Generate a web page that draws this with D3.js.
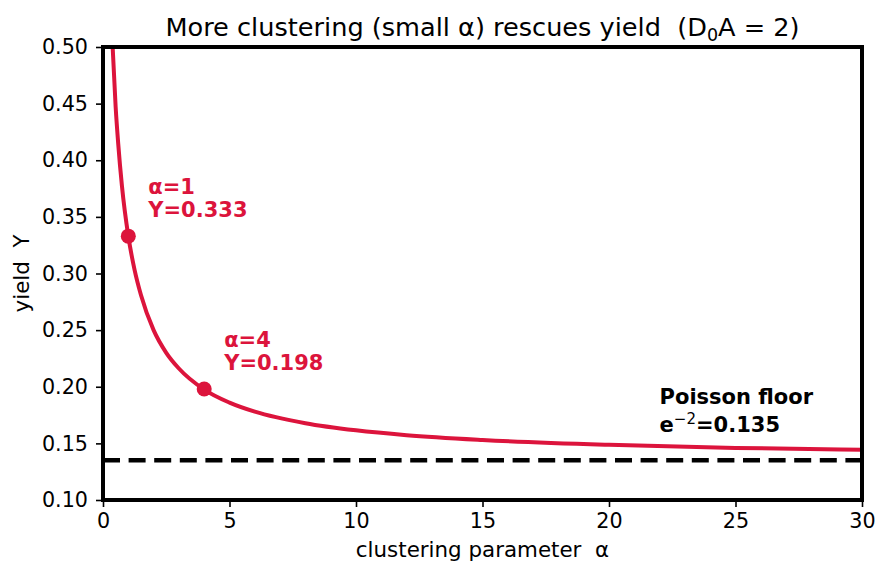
<!DOCTYPE html>
<html>
<head>
<meta charset="utf-8">
<script src="https://cdn.jsdelivr.net/npm/d3@7"></script>
<style>
  body { margin: 0; background: #fff; }
  text { font-family: "DejaVu Sans", sans-serif; white-space: pre; }
</style>
</head>
<body>
<div id="chart"></div>
<script>
// --- data ---
const alphaVals = [0.35, 0.5, 0.6, 0.75, 1, 1.25, 1.5, 2, 2.5, 3, 4, 5, 6, 8, 10, 12, 15, 20, 25, 30];
const yieldVals = [0.514, 0.447, 0.415, 0.377, 0.333, 0.303, 0.281, 0.25, 0.2300, 0.2161, 0.1975, 0.1860, 0.1780, 0.1678, 0.1615, 0.1572, 0.1530, 0.1487, 0.1460, 0.1443];
const markedAlpha = [1, 4];
const markedYield = [0.333, 0.198];
const poissonFloor = 0.135;
const xTicks = [0, 5, 10, 15, 20, 25, 30];
const yTicks = [0.10, 0.15, 0.20, 0.25, 0.30, 0.35, 0.40, 0.45, 0.50];

const W = 889, H = 575;
const margin = {top: 47, right: 27, bottom: 75, left: 103};
const crimson = "#dc143c";

const svg = d3.select("#chart").append("svg")
  .attr("width", W).attr("height", H);

const x = d3.scaleLinear().domain([0, 30]).range([margin.left, W - margin.right]);
const y = d3.scaleLinear().domain([0.10, 0.50]).range([H - margin.bottom, margin.top]);

svg.append("defs").append("clipPath").attr("id", "plotClip")
  .append("rect")
  .attr("x", margin.left).attr("y", margin.top)
  .attr("width", W - margin.left - margin.right)
  .attr("height", H - margin.top - margin.bottom);

// axes
const xAxis = svg.append("g")
  .attr("transform", `translate(0,${H - margin.bottom})`)
  .call(d3.axisBottom(x).tickValues(xTicks).tickSize(7).tickPadding(6).tickFormat(d3.format("d")));
const yAxis = svg.append("g")
  .attr("transform", `translate(${margin.left},0)`)
  .call(d3.axisLeft(y).tickValues(yTicks).tickSize(7).tickPadding(8).tickFormat(d3.format(".2f")));
[xAxis, yAxis].forEach(a => {
  a.select(".domain").remove();
  a.selectAll(".tick line").attr("stroke", "#000").attr("stroke-width", 1.6);
  a.selectAll(".tick text").attr("fill", "#000").style("font-size", "20.7px")
    .style("font-family", "DejaVu Sans, sans-serif");
});

// poisson floor
svg.append("line")
  .attr("x1", x(0)).attr("x2", x(30))
  .attr("y1", y(poissonFloor)).attr("y2", y(poissonFloor))
  .attr("stroke", "#000").attr("stroke-width", 4.5)
  .attr("stroke-dasharray", "17,8.6");

// curve
const pts = alphaVals.map((a, i) => [a, yieldVals[i]]);
const line = d3.line().x(d => x(d[0])).y(d => y(d[1])).curve(d3.curveMonotoneX);
svg.append("path")
  .datum(pts)
  .attr("clip-path", "url(#plotClip)")
  .attr("d", line)
  .attr("fill", "none")
  .attr("stroke", crimson)
  .attr("stroke-width", 4);

// marked points
svg.selectAll(".mark")
  .data(markedAlpha.map((a, i) => [a, markedYield[i]]))
  .enter().append("circle")
  .attr("class", "mark")
  .attr("cx", d => x(d[0])).attr("cy", d => y(d[1]))
  .attr("r", 7.5)
  .attr("fill", crimson);

// annotations
const ann = svg.append("g").style("font-weight", "bold").style("font-size", "21px");
markedAlpha.forEach((a, i) => {
  const tx = x(a) + 20, ty = y(markedYield[i]);
  ann.append("text").attr("x", tx).attr("y", ty - 42).attr("fill", crimson).text(`α=${a}`);
  ann.append("text").attr("x", tx).attr("y", ty - 19).attr("fill", crimson)
    .text(`Y=${markedYield[i].toFixed(3)}`);
});
ann.append("text").attr("x", x(22)).attr("y", y(0.16) - 28).attr("fill", "#000").text("Poisson floor");
const eText = ann.append("text").attr("x", x(22)).attr("y", y(0.16)).attr("fill", "#000");
eText.append("tspan").text("e");
eText.append("tspan").attr("dy", -8).style("font-size", "15px").style("font-weight", "normal").text("−2");
eText.append("tspan").attr("dy", 8).text("=0.135");

// frame
svg.append("rect")
  .attr("x", margin.left).attr("y", margin.top)
  .attr("width", W - margin.left - margin.right)
  .attr("height", H - margin.top - margin.bottom)
  .attr("fill", "none").attr("stroke", "#000").attr("stroke-width", 4);

// title
const title = svg.append("text")
  .attr("x", (margin.left + W - margin.right) / 2).attr("y", 36)
  .attr("text-anchor", "middle").style("font-size", "25.6px").attr("fill", "#000");
title.append("tspan").text("More clustering (small α) rescues yield  (D");
title.append("tspan").attr("dy", 5).style("font-size", "17.5px").text("0");
title.append("tspan").attr("dy", -5).text("A = 2)");

// axis labels
svg.append("text")
  .attr("x", (margin.left + W - margin.right) / 2).attr("y", 557)
  .attr("text-anchor", "middle").style("font-size", "21.4px").attr("fill", "#000")
  .text("clustering parameter  α");
svg.append("text")
  .attr("transform", `translate(29,${(margin.top + H - margin.bottom) / 2}) rotate(-90)`)
  .attr("text-anchor", "middle").style("font-size", "21.4px").attr("fill", "#000")
  .text("yield  Y");
</script>
</body>
</html>
